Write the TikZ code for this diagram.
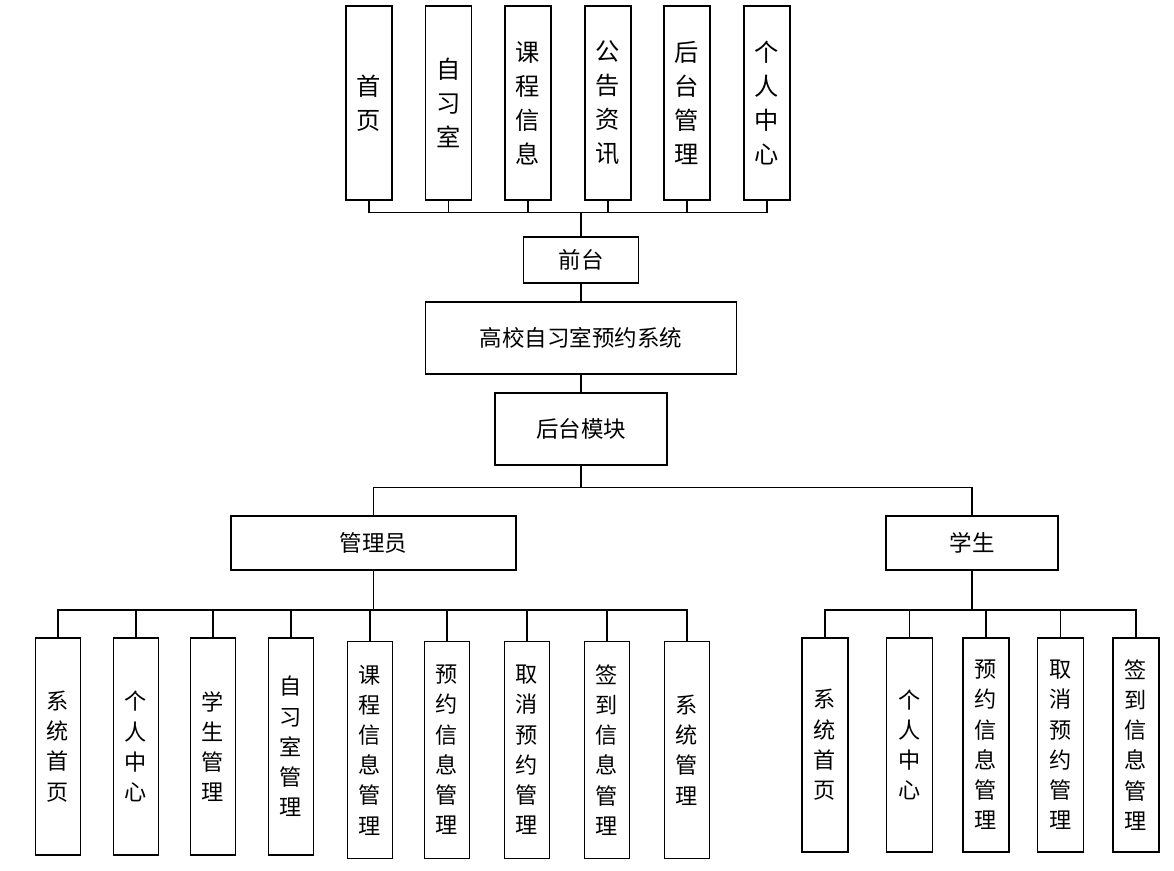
\documentclass[tikz,border=0pt]{standalone}
\usepackage{fontspec}
\newfontfamily\cjk{Noto Sans CJK SC}
\usetikzlibrary{positioning}

\tikzset{
  box/.style={draw=black, line width=1.1pt, fill=white, inner sep=0pt, align=center},
  topleaf/.style={box, minimum width=0.92cm, minimum height=3.88cm,
    font=\cjk\fontsize{13.8pt}{19.4pt}\selectfont},
  leaf/.style={box, minimum width=0.9cm, minimum height=4.34cm,
    font=\cjk\fontsize{12.6pt}{17.2pt}\selectfont},
  midbox/.style={box, font=\cjk\fontsize{12.8pt}{15pt}\selectfont},
  link/.style={line width=1.1pt}
}

\begin{document}
\begin{tikzpicture}
    \useasboundingbox (0,0) rectangle (23.48,-17.42);
    % front end pages
    \node[topleaf] (shouye) at (7.38,-2.06) {首\\页};
    \node[topleaf] (zixishi) at (8.97,-2.06) {自\\习\\室};
    \node[topleaf] (kecheng) at (10.56,-2.06) {课\\程\\信\\息};
    \node[topleaf] (gonggao) at (12.16,-2.06) {公\\告\\资\\讯};
    \node[topleaf] (houtaiguanli) at (13.74,-2.06) {后\\台\\管\\理};
    \node[topleaf] (geren) at (15.34,-2.06) {个\\人\\中\\心};
    \coordinate (topbus) at (11.62,-4.25);
    % main column
    \node[midbox, minimum width=2.3cm, minimum height=0.92cm] (qiantai) at (11.62,-5.2) {前台};
    \node[midbox, minimum width=6.22cm, minimum height=1.44cm, below=0.34cm of qiantai] (xitong) {高校自习室预约系统};
    \node[midbox, minimum width=3.44cm, minimum height=1.44cm, below=0.34cm of xitong] (houtai) {后台模块};
    \coordinate (midbus) at (11.62,-9.75);
    % roles
    \node[midbox, minimum width=5.7cm, minimum height=1.08cm] (admin) at (7.47,-10.86) {管理员};
    \node[midbox, minimum width=3.44cm, minimum height=1.08cm] (student) at (19.44,-10.86) {学生};
    \coordinate (adminbus) at (7.47,-12.2);
    \coordinate (studentbus) at (19.44,-12.2);
    % admin functions
    \node[leaf] (a1) at (1.16,-14.93) {系\\统\\首\\页};
    \node[leaf] (a2) at (2.72,-14.93) {个\\人\\中\\心};
    \node[leaf] (a3) at (4.26,-14.93) {学\\生\\管\\理};
    \node[leaf] (a4) at (5.82,-14.93) {自\\习\\室\\管\\理};
    \node[leaf] (a5) at (7.40,-15.0) {课\\程\\信\\息\\管\\理};
    \node[leaf] (a6) at (8.94,-15.0) {预\\约\\信\\息\\管\\理};
    \node[leaf] (a7) at (10.54,-15.0) {取\\消\\预\\约\\管\\理};
    \node[leaf] (a8) at (12.14,-15.0) {签\\到\\信\\息\\管\\理};
    \node[leaf] (a9) at (13.74,-15.0) {系\\统\\管\\理};
    % student functions
    \node[leaf, minimum width=0.92cm, minimum height=4.28cm] (s1) at (16.5,-14.9) {系\\统\\首\\页};
    \node[leaf, minimum width=0.92cm, minimum height=4.28cm] (s2) at (18.19,-14.9) {个\\人\\中\\心};
    \node[leaf, minimum width=0.92cm, minimum height=4.28cm] (s3) at (19.72,-14.9) {预\\约\\信\\息\\管\\理};
    \node[leaf, minimum width=0.92cm, minimum height=4.28cm] (s4) at (21.21,-14.9) {取\\消\\预\\约\\管\\理};
    \node[leaf, minimum width=0.92cm, minimum height=4.28cm] (s5) at (22.72,-14.9) {签\\到\\信\\息\\管\\理};
    % connectors
    \draw[link] (shouye.south) |- (topbus);
    \draw[link] (zixishi.south) |- (topbus);
    \draw[link] (kecheng.south) |- (topbus);
    \draw[link] (gonggao.south) |- (topbus);
    \draw[link] (houtaiguanli.south) |- (topbus);
    \draw[link] (geren.south) |- (topbus);
    \draw[link] (topbus) -- (qiantai.north);
    \draw[link] (qiantai.south) -- (xitong.north);
    \draw[link] (xitong.south) -- (houtai.north);
    \draw[link] (houtai.south) -- (midbus);
    \draw[link] (midbus) -| (admin.north);
    \draw[link] (midbus) -| (student.north);
    \draw[link] (admin.south) -- (adminbus);
    \draw[link] (adminbus) -| (a1.north);
    \draw[link] (adminbus) -| (a2.north);
    \draw[link] (adminbus) -| (a3.north);
    \draw[link] (adminbus) -| (a4.north);
    \draw[link] (adminbus) -| (a5.north);
    \draw[link] (adminbus) -| (a6.north);
    \draw[link] (adminbus) -| (a7.north);
    \draw[link] (adminbus) -| (a8.north);
    \draw[link] (adminbus) -| (a9.north);
    \draw[link] (student.south) -- (studentbus);
    \draw[link] (studentbus) -| (s1.north);
    \draw[link] (studentbus) -| (s2.north);
    \draw[link] (studentbus) -| (s3.north);
    \draw[link] (studentbus) -| (s4.north);
    \draw[link] (studentbus) -| (s5.north);
\end{tikzpicture}
\end{document}
